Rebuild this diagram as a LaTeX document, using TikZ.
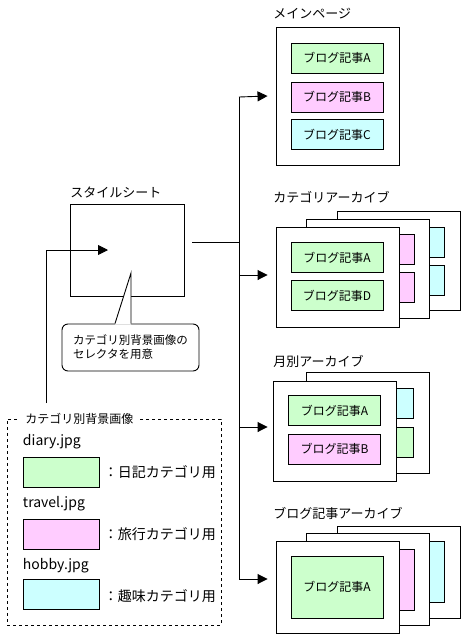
\documentclass[tikz,border=0pt]{standalone}
\usepackage{fontspec}
\setmainfont{Noto Sans CJK JP}
\usepackage{tikz}
\usetikzlibrary{positioning}
\usetikzlibrary{arrows.meta}
\tikzset{>={Triangle[width=10pt,length=10pt]}}

\definecolor{diarygreen}{HTML}{CCFFCC}
\definecolor{travelpink}{HTML}{FFCCFF}
\definecolor{hobbycyan}{HTML}{CCFFFF}

\begin{document}
\begin{tikzpicture}[x=1pt, y=-1pt, line width=0.9pt, frame/.style={draw=black, fill=white, minimum width=123pt, inner sep=0pt}, post/.style={draw=black, minimum width=92pt, minimum height=30pt, inner sep=0pt, font=\fontsize{12}{14}\selectfont}, title/.style={anchor=west, inner sep=0pt, font=\fontsize{13}{15}\selectfont}, swatch/.style={draw=black, minimum width=76pt, minimum height=30pt, inner sep=0pt}, legtext/.style={inner sep=0pt, font=\fontsize{14}{16}\selectfont}, note/.style={draw=black, fill=white, rounded corners=6pt, minimum height=47pt, text width=115pt, inner xsep=11pt, align=left, font=\fontsize{11.5}{14}\selectfont}]

    \fill[white] (0,0) rectangle (470,641);

    %Nodes
    \node[title](sheettitle) at (70,192){スタイルシート};
    \node[draw=black, minimum width=114pt, minimum height=92pt](sheet) at (127,250){};
    \node[note](selnote) at (130.5,347.5){カテゴリ別背景画像の\\セレクタを用意};
    \coordinate (seltip) at (131,273);

    \node[draw=black, dashed, minimum width=214pt, minimum height=206pt](legend) at (114,522){};
    \node[fill=white, anchor=west, inner xsep=5pt, inner ysep=1pt, font=\fontsize{12}{14}\selectfont](legtitle) at (20,419){カテゴリ別背景画像};
    \coordinate (feed) at (46,403);
    \node[swatch, fill=diarygreen](diarybox) at (61,472.5){};
    \node[swatch, fill=travelpink](travelbox) at (61,534){};
    \node[swatch, fill=hobbycyan](hobbybox) at (61,594.5){};
    \node[legtext, anchor=west](diaryname) at ([yshift=15pt]diarybox.north west){diary.jpg};
    \node[legtext, anchor=west](travelname) at ([yshift=15pt]travelbox.north west){travel.jpg};
    \node[legtext, anchor=west](hobbyname) at ([yshift=13pt]hobbybox.north west){hobby.jpg};
    \node[legtext](diarytext)[right=4pt of diarybox]{：日記カテゴリ用};
    \node[legtext](traveltext)[right=4pt of travelbox]{：旅行カテゴリ用};
    \node[legtext](hobbytext)[right=4pt of hobbybox, yshift=-2pt]{：趣味カテゴリ用};

    % main page
    \node[title](maintitle) at (273,14){メインページ};
    \node[frame, minimum height=138pt](mainpage) at (337.5,96){};
    \node[post, fill=diarygreen](mainA) at (337,58){ブログ記事A};
    \node[post, fill=travelpink](mainB) at (337,97){ブログ記事B};
    \node[post, fill=hobbycyan](mainC) at (337,134.5){ブログ記事C};

    % category archive
    \node[title](cattitle) at (273,197){カテゴリアーカイブ};
    \node[frame, minimum height=99pt](catback2) at (398.5,260.5){};
    \node[post, fill=hobbycyan](catC1) at (398,242.5){};
    \node[post, fill=hobbycyan](catC2) at (398,280.5){};
    \node[frame, minimum height=99pt](catback1) at (368,268.5){};
    \node[post, fill=travelpink](catB1) at (368,249.5){};
    \node[post, fill=travelpink](catB2) at (368,287.5){};
    \node[frame, minimum height=100pt](catfront) at (337.5,277){};
    \node[post, fill=diarygreen](catA) at (337,257.5){ブログ記事A};
    \node[post, fill=diarygreen](catD) at (337,295.5){ブログ記事D};

    % monthly archive
    \node[title](montitle) at (273,361){月別アーカイブ};
    \node[frame, minimum height=101pt](monback) at (368,422.5){};
    \node[post, fill=hobbycyan](monC) at (367.5,403.5){};
    \node[post, fill=diarygreen](monA2) at (367.5,442){};
    \node[frame, minimum height=100pt](monfront) at (334.5,431){};
    \node[post, fill=diarygreen](monA) at (334.5,410.5){ブログ記事A};
    \node[post, fill=travelpink](monB) at (334.5,449){ブログ記事B};

    % blog post archive
    \node[title](blogtitle) at (273,513){ブログ記事アーカイブ};
    \node[frame, minimum height=92pt](blogback2) at (398.5,572){};
    \node[post, fill=hobbycyan, minimum height=61pt](blogC) at (398.5,571.5){};
    \node[frame, minimum height=92pt](blogback1) at (368,579){};
    \node[post, fill=travelpink, minimum height=61pt](blogB) at (368,579.5){};
    \node[frame, minimum height=92pt](blogfront) at (337.5,587){};
    \node[post, fill=diarygreen, minimum height=62pt](blogA) at (337,587){ブログ記事A};

    \coordinate (trunktop) at (239,97);
    \coordinate (trunkbot) at (239,579);

    %Lines
    \fill[white] ([shift={(-15.5pt,-1pt)}]selnote.north) -- (seltip) -- ([shift={(0.5pt,-1pt)}]selnote.north) -- cycle;
    \draw ([xshift=-15.5pt]selnote.north) -- (seltip) -- ([xshift=0.5pt]selnote.north);
    \draw[->] (feed) |- ([xshift=-19pt]sheet.center);
    \draw ([shift={(8pt,8pt)}]sheet.east) -- ([yshift=8pt]sheet.east -| trunktop);
    \draw (trunktop) -- (trunkbot);
    \draw[->] (trunktop) -- ([xshift=-8pt]mainpage.west);
    \draw[->] ([yshift=2pt]catfront.west -| trunktop) -- ([shift={(-8pt,2pt)}]catfront.west);
    \draw[->] ([yshift=4pt]monfront.west -| trunktop) -- ([shift={(-5pt,4pt)}]monfront.west);
    \draw[->] (trunkbot) -- ([shift={(-8pt,8pt)}]blogfront.west);

\end{tikzpicture}
\end{document}
